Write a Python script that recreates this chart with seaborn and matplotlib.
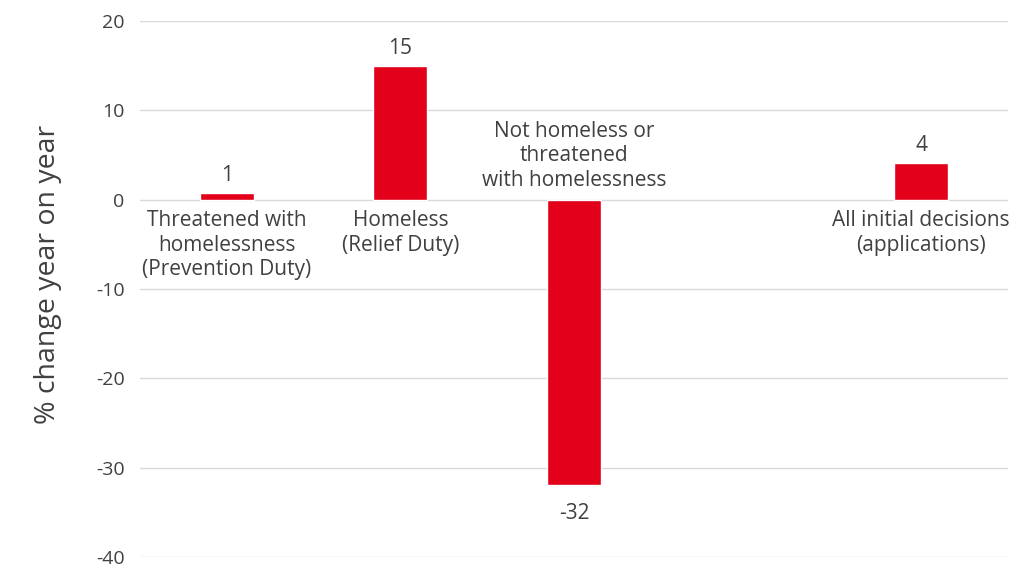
import matplotlib
matplotlib.use("Agg")
import matplotlib.pyplot as plt
import seaborn as sns
import pandas as pd

categories = ["Threatened with\nhomelessness\n(Prevention Duty)",
              "Homeless\n(Relief Duty)",
              "Not homeless or\nthreatened\nwith homelessness",
              "All initial decisions\n(applications)"]
values = [0.7, 15, -31.9, 4.05]
value_labels = ["1", "15", "-32", "4"]
slot_order = [categories[0], categories[1], categories[2], "gap", categories[3]]
y_ticks = [20, 10, 0, -10, -20, -30, -40]

sns.set_theme(style="white")
plt.rcParams['font.family'] = ['Open Sans', 'DejaVu Sans']

df = pd.DataFrame({"cat": categories, "val": values})

fig = plt.figure(figsize=(10.13, 5.67), dpi=100)
ax = fig.add_axes([140/1013, 1-557/567, 868/1013, 536/567])

sns.barplot(data=df, x="cat", y="val", order=slot_order, color="#E2001A",
            saturation=1, width=0.31, ax=ax, zorder=3)

ax.set_ylim(-40, 20)
ax.set_xlim(-0.5, 4.5)
ax.set_yticks(y_ticks)
ax.set_yticklabels([str(t) for t in y_ticks], color="#404040", fontsize=14)
ax.tick_params(axis="y", length=0, pad=11)
ax.set_xticks([])
ax.set_xlabel("")
ax.set_ylabel("% change year on year", color="#404040", fontsize=20.5)
ax.yaxis.set_label_coords(-0.09, 0.528)
ax.grid(axis="y", color="#D9D9D9", linewidth=1, zorder=0)
for s in ax.spines.values():
    s.set_visible(False)

tc = "#404040"
fs = 15
pos = [0, 1, 2, 4]
for p, cat, v, lab in zip(pos, categories, values, value_labels):
    if v >= 0:
        ax.text(p, v + 0.8, lab, ha="center", va="bottom", color=tc, fontsize=fs)
        ax.text(p, -1.2, cat, ha="center", va="top", color=tc, fontsize=fs,
                linespacing=1.22)
    else:
        ax.text(p, v - 2.0, lab, ha="center", va="top", color=tc, fontsize=fs)
        ax.text(p, 1.0, cat, ha="center", va="bottom", color=tc, fontsize=fs,
                linespacing=1.22)

fig.savefig("out.png", dpi=100)
